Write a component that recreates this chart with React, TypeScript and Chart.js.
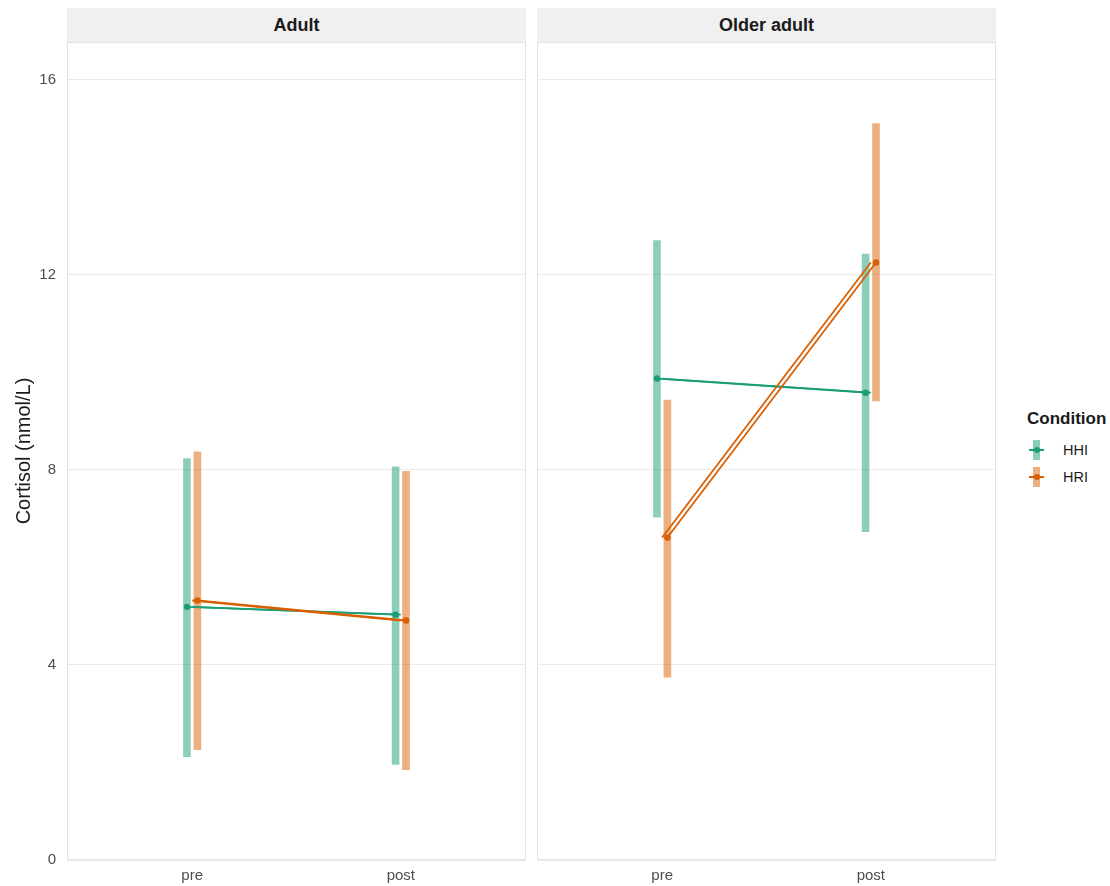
import React, { useEffect, useRef } from 'react';
import { Chart, registerables } from 'chart.js';

Chart.register(...registerables);

// ---- data ----
const categories = ['pre', 'post'];
const panels = ['Adult', 'Older adult'];
const conditions = ['HHI', 'HRI'];
const yTicks = [0, 4, 8, 12, 16];
const yMax = 16.77;

const adultHHIMean = [5.19, 5.03];
const adultHHILow = [2.12, 1.96];
const adultHHIHigh = [8.23, 8.06];

const adultHRIMean = [5.32, 4.91];
const adultHRILow = [2.26, 1.85];
const adultHRIHigh = [8.37, 7.97];

const olderHHIMean = [9.87, 9.58];
const olderHHILow = [7.03, 6.73];
const olderHHIHigh = [12.7, 12.42];

const olderHRIMean = [6.61, 12.25];
const olderHRILow = [3.75, 9.41];
const olderHRIHigh = [9.43, 15.1];

// ---- styles ----
const lineColors = ['#1B9E77', '#D95F02'];
const barColors = ['rgba(27,158,119,0.5)', 'rgba(217,95,2,0.5)'];
const dodge = [-0.025, 0.025];
const FONT = '"Liberation Sans", Arial, Helvetica, sans-serif';

type Series = { mean: number[]; low: number[]; high: number[] };

const panelSeries: Series[][] = [
  [
    { mean: adultHHIMean, low: adultHHILow, high: adultHHIHigh },
    { mean: adultHRIMean, low: adultHRILow, high: adultHRIHigh },
  ],
  [
    { mean: olderHHIMean, low: olderHHILow, high: olderHHIHigh },
    { mean: olderHRIMean, low: olderHRILow, high: olderHRIHigh },
  ],
];

const panelBorder = {
  id: 'panelBorder',
  beforeDatasetsDraw(chart: any) {
    const { ctx, chartArea } = chart;
    const l = Math.round(chartArea.left);
    const t = Math.round(chartArea.top);
    const r = Math.round(chartArea.right);
    const b = Math.round(chartArea.bottom);
    ctx.save();
    ctx.strokeStyle = '#E2E2E2';
    ctx.lineWidth = 1;
    ctx.strokeRect(l + 0.5, t + 0.5, r - l - 1, b - t - 1);
    ctx.restore();
  },
};

function buildDatasets(series: Series[]) {
  const ds: any[] = [];
  series.forEach((s, i) => {
    ds.push({
      type: 'bar',
      label: conditions[i] + ' range',
      data: categories.map((_, k) => ({ x: k + 1 + dodge[i], y: [s.low[k], s.high[k]] })),
      backgroundColor: barColors[i],
      borderWidth: 0,
      grouped: false,
      barThickness: 7,
      maxBarThickness: 7,
      order: 10,
    });
    ds.push({
      type: 'line',
      label: conditions[i] + ' base',
      data: categories.map((_, k) => ({ x: k + 1, y: s.mean[k] })),
      borderColor: lineColors[i],
      borderWidth: 1.8,
      pointRadius: 0,
      fill: false,
      order: 5 - 2 * i,
    });
    ds.push({
      type: 'line',
      label: conditions[i],
      data: categories.map((_, k) => ({ x: k + 1 + dodge[i], y: s.mean[k] })),
      borderColor: lineColors[i],
      backgroundColor: lineColors[i],
      borderWidth: 1.8,
      pointRadius: 3.2,
      pointBorderWidth: 0,
      pointBackgroundColor: lineColors[i],
      fill: false,
      order: 4 - 2 * i,
    });
  });
  return ds;
}

function Panel({ idx, left, width }: { idx: number; left: number; width: number }) {
  const ref = useRef<HTMLCanvasElement>(null);
  const showY = idx === 0;
  useEffect(() => {
    if (!ref.current) return;
    const chart = new Chart(ref.current, {
      type: 'line',
      data: { datasets: buildDatasets(panelSeries[idx]) },
      options: {
        animation: false,
        responsive: false,
        events: [],
        layout: { autoPadding: false, padding: { top: 0, right: 4, bottom: 0, left: 0 } },
        plugins: { legend: { display: false }, tooltip: { enabled: false } },
        scales: {
          x: {
            type: 'linear',
            min: 0.4,
            max: 2.6,
            offset: false,
            grid: { display: false, drawTicks: false },
            border: { display: false },
            afterBuildTicks: (s: any) => {
              s.ticks = categories.map((_, k) => ({ value: k + 1 }));
            },
            afterFit: (s: any) => {
              s.height = 26;
              s.paddingLeft = 0;
              s.paddingRight = 0;
            },
            ticks: {
              autoSkip: false,
              maxRotation: 0,
              padding: 7,
              color: '#4D4D4D',
              font: { family: FONT, size: 15 },
              callback: (v: any) => categories[Math.round(Number(v)) - 1] ?? '',
            },
          },
          y: {
            type: 'linear',
            min: 0,
            max: yMax,
            grid: { color: '#EBEBEB', lineWidth: 1, drawTicks: false },
            border: { display: false },
            afterBuildTicks: (s: any) => {
              s.ticks = yTicks.map((v) => ({ value: v }));
            },
            afterFit: (s: any) => {
              s.width = showY ? 67 : 0;
              s.paddingTop = 0;
              s.paddingBottom = 0;
            },
            ticks: {
              display: showY,
              padding: 11,
              color: '#4D4D4D',
              font: { family: FONT, size: 15 },
            },
            title: {
              display: showY,
              text: 'Cortisol (nmol/L)',
              color: '#1A1A1A',
              font: { family: FONT, size: 20 },
              padding: { top: 12, bottom: 0 },
            },
          },
        },
      } as any,
      plugins: [panelBorder],
    });
    return () => chart.destroy();
  }, [idx]);
  return (
    <canvas
      ref={ref}
      width={width}
      height={844}
      style={{ position: 'absolute', left, top: 42, width, height: 844 }}
    />
  );
}

function Strip({ text, left }: { text: string; left: number }) {
  return (
    <div
      style={{
        position: 'absolute',
        left,
        top: 8,
        width: 459,
        height: 34,
        background: '#F0F0F0',
        display: 'flex',
        alignItems: 'center',
        justifyContent: 'center',
        fontFamily: FONT,
        fontWeight: 'bold',
        fontSize: 18,
        color: '#1A1A1A',
      }}
    >
      {text}
    </div>
  );
}

function LegendKey({ i }: { i: number }) {
  return (
    <div style={{ position: 'relative', width: 17, height: 22 }}>
      <div
        style={{
          position: 'absolute',
          left: 5,
          top: 1,
          width: 7,
          height: 20,
          background: barColors[i],
        }}
      />
      <div
        style={{
          position: 'absolute',
          left: 1,
          top: 10,
          width: 15,
          height: 2,
          background: lineColors[i],
        }}
      />
      <div
        style={{
          position: 'absolute',
          left: 5.5,
          top: 8,
          width: 6,
          height: 6,
          borderRadius: 3,
          background: lineColors[i],
        }}
      />
    </div>
  );
}

export default function App() {
  return (
    <div
      style={{
        position: 'absolute',
        left: 0,
        top: 0,
        width: 1110,
        height: 886,
        background: '#FFFFFF',
        overflow: 'hidden',
      }}
    >
      <Panel idx={0} left={0} width={530} />
      <Panel idx={1} left={537} width={463} />
      <Strip text={panels[0]} left={67} />
      <Strip text={panels[1]} left={537} />
      <div
        style={{
          position: 'absolute',
          left: 1027,
          top: 408,
          fontFamily: FONT,
          fontWeight: 'bold',
          fontSize: 17,
          lineHeight: '22px',
          color: '#1A1A1A',
        }}
      >
        Condition
      </div>
      {conditions.map((c, i) => (
        <div
          key={c}
          style={{
            position: 'absolute',
            left: 1028,
            top: 439 + i * 27,
            display: 'flex',
            alignItems: 'center',
            fontFamily: FONT,
            fontSize: 14.5,
            color: '#1A1A1A',
          }}
        >
          <LegendKey i={i} />
          <span style={{ marginLeft: 18 }}>{c}</span>
        </div>
      ))}
    </div>
  );
}
